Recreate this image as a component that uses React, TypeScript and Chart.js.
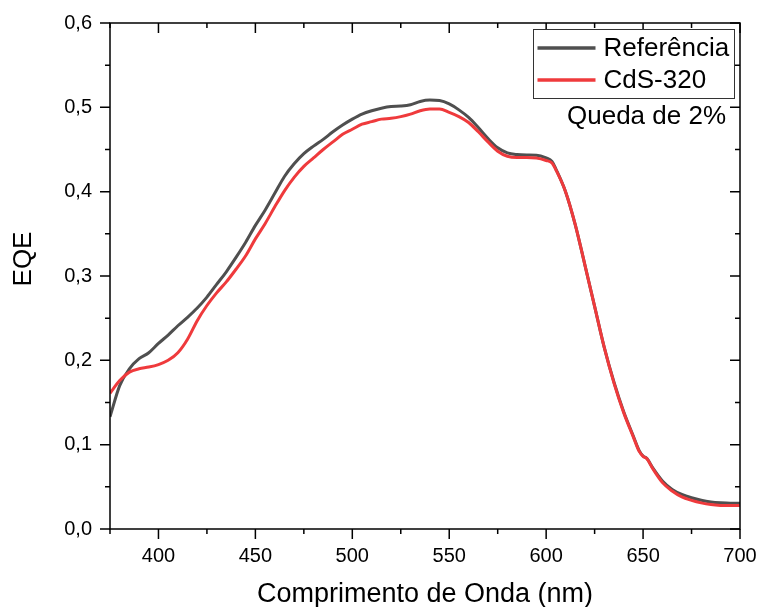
import React, { useEffect, useRef } from 'react';
import { Chart, registerables } from 'chart.js';

Chart.register(...registerables);

const wavelengths = [
  375, 380, 385, 390, 395, 400, 405, 410, 415, 420, 425, 430, 435, 440, 445, 450,
  455, 460, 465, 470, 475, 480, 485, 490, 495, 500, 505, 510, 515, 520, 525, 530,
  535, 540, 545, 550, 555, 560, 565, 570, 575, 580, 585, 590, 595, 600, 603, 605,
  610, 615, 620, 625, 630, 635, 640, 645, 648, 650, 652, 655, 660, 665, 670, 675,
  680, 685, 690, 695, 700,
];

const referencia = [
  0.133, 0.170, 0.190, 0.202, 0.209, 0.220, 0.230, 0.241, 0.251, 0.262, 0.275, 0.290, 0.305, 0.322, 0.340, 0.360,
  0.378, 0.398, 0.418, 0.433, 0.445, 0.454, 0.462, 0.471, 0.479, 0.486, 0.492, 0.496, 0.499, 0.501, 0.5015, 0.503,
  0.507, 0.5086, 0.508, 0.504, 0.497, 0.488, 0.476, 0.463, 0.452, 0.446, 0.444, 0.4435, 0.4433, 0.440, 0.436, 0.427,
  0.400, 0.361, 0.313, 0.264, 0.215, 0.174, 0.139, 0.110, 0.093, 0.0865, 0.0835, 0.0725, 0.057, 0.047, 0.041, 0.037,
  0.034, 0.032, 0.031, 0.0305, 0.0305,
];

const cds320 = [
  0.161, 0.176, 0.186, 0.190, 0.192, 0.195, 0.200, 0.209, 0.225, 0.247, 0.265, 0.280, 0.293, 0.308, 0.324, 0.344,
  0.362, 0.382, 0.401, 0.417, 0.430, 0.440, 0.450, 0.459, 0.468, 0.474, 0.480, 0.483, 0.486, 0.487, 0.489, 0.492,
  0.496, 0.498, 0.498, 0.494, 0.489, 0.482, 0.471, 0.459, 0.448, 0.442, 0.4405, 0.4405, 0.440, 0.437, 0.434, 0.426,
  0.400, 0.361, 0.313, 0.264, 0.215, 0.173, 0.138, 0.109, 0.092, 0.0862, 0.0832, 0.0715, 0.055, 0.045, 0.038, 0.034,
  0.031, 0.029, 0.028, 0.0278, 0.0278,
];

const seriesNames = ['Referência', 'CdS-320'];
const seriesColors = ['#4f4f4f', '#ef3a3c'];
const annotationText = 'Queda de 2%';
const xTitle = 'Comprimento de Onda (nm)';
const yTitle = 'EQE';

const xMajorTicks = [400, 450, 500, 550, 600, 650, 700];
const xMinorTicks = [375, 425, 475, 525, 575, 625, 675];
const yMajorTicks = [0, 0.1, 0.2, 0.3, 0.4, 0.5, 0.6];
const yMinorTicks = [0.05, 0.15, 0.25, 0.35, 0.45, 0.55];

const FONT = "'Liberation Sans', Arial, Helvetica, sans-serif";

const framePlugin = {
  id: 'originFrame',
  afterDraw(chart: any) {
    const { ctx, chartArea } = chart;
    const { left, right, top, bottom } = chartArea;
    const xs = chart.scales.x;
    const ys = chart.scales.y;
    ctx.save();
    ctx.strokeStyle = '#000';
    ctx.lineWidth = 1.5;
    ctx.strokeRect(left, top, right - left, bottom - top);
    ctx.beginPath();
    const major = 10;
    const minor = 5;
    xMajorTicks.forEach((v) => {
      const px = xs.getPixelForValue(v);
      ctx.moveTo(px, bottom);
      ctx.lineTo(px, bottom + major);
      ctx.moveTo(px, top);
      ctx.lineTo(px, top + major);
    });
    xMinorTicks.forEach((v) => {
      const px = xs.getPixelForValue(v);
      ctx.moveTo(px, bottom);
      ctx.lineTo(px, bottom + minor);
      ctx.moveTo(px, top);
      ctx.lineTo(px, top + minor);
    });
    yMajorTicks.forEach((v) => {
      const py = ys.getPixelForValue(v);
      ctx.moveTo(left, py);
      ctx.lineTo(left - major, py);
      ctx.moveTo(right, py);
      ctx.lineTo(right - major, py);
    });
    yMinorTicks.forEach((v) => {
      const py = ys.getPixelForValue(v);
      ctx.moveTo(left, py);
      ctx.lineTo(left - minor, py);
      ctx.moveTo(right, py);
      ctx.lineTo(right - minor, py);
    });
    ctx.stroke();

    // y axis title
    ctx.fillStyle = '#000';
    ctx.font = `26px ${FONT}`;
    ctx.textAlign = 'center';
    ctx.textBaseline = 'middle';
    ctx.save();
    ctx.translate(24, (top + bottom) / 2 - 17);
    ctx.rotate(-Math.PI / 2);
    ctx.fillText(yTitle, 0, 0);
    ctx.restore();

    // legend
    const bx = right - 206.5;
    const by = top + 6.5;
    const bw = 201;
    const bh = 69;
    ctx.fillStyle = '#fff';
    ctx.fillRect(bx, by, bw, bh);
    ctx.strokeStyle = '#333';
    ctx.lineWidth = 1;
    ctx.strokeRect(bx, by, bw, bh);
    chart.data.datasets.forEach((ds: any, i: number) => {
      const ly = by + 18.5 + i * 32;
      ctx.strokeStyle = ds.borderColor;
      ctx.lineWidth = 3.5;
      ctx.beginPath();
      ctx.moveTo(bx + 4, ly);
      ctx.lineTo(bx + 62, ly);
      ctx.stroke();
      ctx.fillStyle = '#000';
      ctx.font = `26px ${FONT}`;
      ctx.textAlign = 'left';
      ctx.textBaseline = 'middle';
      ctx.fillText(ds.label, bx + 70, ly + 1);
    });

    // annotation
    ctx.fillStyle = '#000';
    ctx.font = `26px ${FONT}`;
    ctx.textAlign = 'right';
    ctx.textBaseline = 'alphabetic';
    ctx.fillText(annotationText, right - 14, top + 101);
    ctx.restore();
  },
};

export default function App() {
  const canvasRef = useRef<HTMLCanvasElement | null>(null);

  useEffect(() => {
    if (!canvasRef.current) return;
    Chart.defaults.font.family = FONT;
    const makeData = (vals: number[]) => wavelengths.map((x, i) => ({ x, y: vals[i] }));
    const chart = new Chart(canvasRef.current, {
      type: 'line',
      data: {
        datasets: [
          {
            label: seriesNames[0],
            data: makeData(referencia),
            borderColor: seriesColors[0],
            backgroundColor: seriesColors[0],
            borderWidth: 3,
            pointRadius: 0,
            cubicInterpolationMode: 'monotone',
            order: 1,
          },
          {
            label: seriesNames[1],
            data: makeData(cds320),
            borderColor: seriesColors[1],
            backgroundColor: seriesColors[1],
            borderWidth: 3,
            pointRadius: 0,
            cubicInterpolationMode: 'monotone',
            order: 0,
          },
        ],
      },
      options: {
        animation: false,
        responsive: false,
        devicePixelRatio: 1,
        layout: { padding: { top: 23, right: 19, left: 0, bottom: 0 } },
        plugins: {
          legend: { display: false },
          tooltip: { enabled: false },
        },
        scales: {
          x: {
            type: 'linear',
            min: 375,
            max: 700,
            afterBuildTicks: (scale: any) => {
              scale.ticks = xMajorTicks.map((v) => ({ value: v }));
            },
            afterFit: (scale: any) => {
              scale.height = 78;
              scale.paddingLeft = 0;
              scale.paddingRight = 0;
            },
            grid: {
              display: true,
              drawOnChartArea: false,
              drawTicks: true,
              tickLength: 10,
              color: 'rgba(0,0,0,0)',
            },
            border: { display: false },
            ticks: {
              color: '#000',
              font: { size: 20 },
              padding: 5,
              maxRotation: 0,
              autoSkip: false,
              callback: (v: any) => String(v),
            },
            title: {
              display: true,
              text: xTitle,
              color: '#000',
              font: { size: 27 },
              padding: { top: 0, bottom: -4 },
            },
          },
          y: {
            type: 'linear',
            min: 0,
            max: 0.6,
            afterBuildTicks: (scale: any) => {
              scale.ticks = yMajorTicks.map((v) => ({ value: v }));
            },
            afterFit: (scale: any) => {
              scale.width = 110;
            },
            grid: {
              display: true,
              drawOnChartArea: false,
              drawTicks: true,
              tickLength: 10,
              color: 'rgba(0,0,0,0)',
            },
            border: { display: false },
            ticks: {
              color: '#000',
              font: { size: 20 },
              padding: 8,
              autoSkip: false,
              callback: (v: any) => Number(v).toFixed(1).replace('.', ','),
            },
          },
        },
      },
      plugins: [framePlugin],
    });
    return () => chart.destroy();
  }, []);

  return (
    <div style={{ position: 'fixed', left: 0, top: 0, width: 759, height: 607, background: '#fff' }}>
      <canvas ref={canvasRef} width={759} height={607} />
    </div>
  );
}
